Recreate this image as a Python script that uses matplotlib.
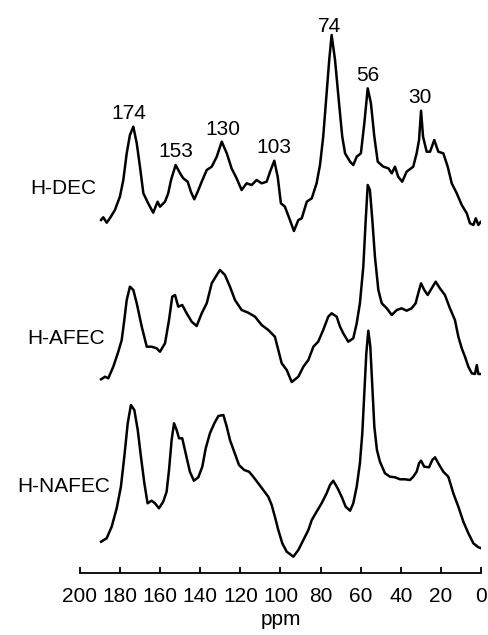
import matplotlib
matplotlib.use("Agg")
import matplotlib.pyplot as plt

plt.rcParams['font.family'] = ['Liberation Sans', 'DejaVu Sans']

# ---- data (chemical shift in ppm, intensity in arbitrary units) ----
dec_ppm = [189.5, 188.4, 186.7, 185.1, 182.6, 180.1, 178.4, 176.7, 175.1, 173.4, 171.7, 170.1,
           168.4, 166.0, 163.5, 161.3, 160.1, 157.6, 156.0, 154.6, 152.3, 150.1, 148.5, 146.3,
           144.7, 143.0, 141.3, 139.3, 136.8, 134.3, 131.8, 129.3, 126.8, 124.4, 121.9, 119.4,
           116.9, 114.4, 111.9, 109.4, 106.9, 105.2, 103.1, 101.4, 99.8, 97.8, 95.3, 93.3,
           91.1, 89.4, 86.9, 84.4, 82.0, 80.3, 78.7, 77.0, 75.7, 74.5, 72.8, 70.8, 69.2, 67.8,
           65.3, 63.7, 62.0, 59.9, 58.2, 56.5, 54.9, 53.2, 51.5, 48.7, 46.2, 44.5, 42.9, 41.3,
           39.3, 37.1, 33.8, 32.1, 30.9, 29.9, 28.9, 27.1, 25.4, 23.3, 21.3, 18.8, 16.6, 14.6,
           12.1, 9.6, 7.1, 5.5, 3.8, 2.6, 1.3, 0.2]
dec_int = [12, 14.7, 9.3, 13.7, 22, 35.3, 52, 78.7, 97, 105.3, 88.7, 65.3,
           38.7, 28.7, 19.3, 30.3, 25.3, 30.3, 38.7, 52, 67, 58.7, 53.7, 50.3,
           40.3, 32.7, 40.3, 50.3, 62, 65.3, 75.3, 90.3, 78.7, 63.7, 53.7, 42,
           48.7, 47, 52, 48.7, 50.3, 60.3, 71.3, 55.3, 28.7, 25.3, 12, 1,
           12, 13.7, 30.3, 33.7, 48.7, 67, 95.3, 138.7, 172, 197, 172, 128.7, 95.3, 78.7,
           70.3, 67, 75.3, 78.7, 108.7, 143.7, 128.7, 95.3, 70.3, 65.3, 63.7, 58.7, 65.3, 55.3,
           50.3, 60.3, 65.3, 78.7, 92, 121.3, 95.3, 80.3, 80.3, 92, 80.3, 78.7, 65.3, 48.7,
           38.7, 27, 18.7, 8.7, 7, 13.7, 7, 10]

afec_ppm = [189.5, 187.5, 185.9, 183.4, 180.9, 179.2, 177.9, 176.7, 175.1, 173.4, 171.7, 169.2,
            166.7, 164.3, 161.8, 160.1, 157.6, 155.6, 154.0, 152.6, 151.0, 149.0, 146.8, 144.3,
            141.8, 139.3, 136.8, 134.3, 131.8, 130.2, 127.7, 125.2, 122.7, 119.4, 116.1, 112.7,
            109.4, 106.1, 102.8, 101.1, 99.4, 96.9, 94.4, 91.1, 88.6, 86.1, 83.6, 81.2, 78.7,
            76.2, 74.5, 72.0, 70.3, 68.7, 66.2, 63.7, 62.0, 60.4, 58.7, 57.5, 56.5, 55.4, 54.2,
            52.9, 51.2, 49.5, 47.0, 44.5, 42.0, 39.6, 37.1, 34.6, 32.6, 31.3, 29.9, 28.3, 26.6,
            24.6, 22.6, 20.5, 18.0, 15.5, 13.0, 11.3, 9.6, 8.0, 6.3, 4.6, 3.0, 2.1, 1.3, 0.2]
afec_int = [4.7, 7.3, 5.7, 17.3, 32.3, 44, 64, 84, 97.3, 94, 80.7, 57.3,
            37.3, 37.3, 35.7, 32.3, 40.7, 64, 87.3, 89, 77.3, 79, 70.7, 62.3,
            58, 70.7, 80.7, 100.7, 109, 114, 109, 97.3, 84, 74, 71.3, 67.3,
            59, 54, 47.3, 34, 20.7, 14, 2, 7.3, 17.3, 24, 37.3, 42.3, 54,
            67.3, 70.7, 67.3, 57.3, 50.7, 42.3, 45.7, 60.7, 80.7, 117.3, 164, 199, 194, 164,
            127.3, 94, 80.7, 75.7, 69, 74, 75.7, 73.3, 75.7, 80.7, 90.7, 100.7, 94, 89,
            95.7, 102.3, 95.7, 89, 75.7, 64, 47.3, 35.7, 27.3, 17.3, 10.7, 10, 19, 10, 10]

nafec_ppm = [189.5, 186.7, 184.2, 181.7, 179.6, 177.9, 176.2, 174.6, 172.9, 171.2, 169.6, 167.9,
             166.3, 164.3, 162.6, 160.6, 158.5, 156.8, 155.6, 154.3, 153.1, 151.8, 150.6, 149.0,
             147.3, 145.2, 143.2, 141.0, 139.0, 137.3, 135.2, 133.0, 131.0, 128.5, 126.8, 125.2,
             123.1, 120.7, 118.1, 115.7, 113.6, 111.1, 108.6, 106.1, 104.4, 102.8, 101.1, 99.1,
             96.9, 95.3, 93.6, 91.1, 88.6, 86.1, 84.4, 82.0, 79.5, 77.0, 75.3, 73.7, 71.5, 69.5,
             67.5, 65.3, 63.7, 62.0, 60.4, 59.2, 58.2, 57.2, 56.2, 55.2, 54.2, 53.2, 51.9, 50.4,
             47.9, 45.4, 42.9, 40.4, 37.9, 35.4, 33.8, 32.1, 30.9, 29.9, 28.3, 25.9, 24.3, 22.9,
             21.3, 18.8, 16.3, 13.8, 11.3, 8.8, 6.3, 3.8, 1.3, 0.2]
nafec_int = [16.3, 19.7, 31.3, 49.7, 71.3, 101.3, 134.7, 153, 148, 128, 101.3, 74.7,
             54.7, 57.3, 54.7, 49.7, 56.3, 66.3, 88, 118, 134.7, 128, 119.7, 119.7,
             104.7, 86.3, 77.3, 80.7, 91.3, 109.7, 124.7, 134.7, 142, 143, 131.3, 118,
             106.3, 93, 88, 86.3, 81.3, 74.7, 68, 61.3, 53, 41.3, 28, 14.7,
             6.3, 4, 1.3, 8, 18, 28, 38, 46.3, 54.7, 64.7, 73, 77.3, 69.7, 61.3,
             51.3, 47.3, 54.7, 71.3, 94.7, 124.7, 164.7, 204.7, 227.3, 211.3, 171.3, 131.3, 108, 96.3,
             84.7, 81.3, 80.7, 78.7, 78.7, 78, 81.3, 86.3, 94.7, 97.3, 91.3, 90.7, 98, 100.7,
             94.7, 86.3, 81.3, 64.7, 51.3, 36.3, 24.7, 14.7, 10.7, 10]

sample_names = ["H-DEC", "H-AFEC", "H-NAFEC"]
sample_offsets = [341, 189, 15]

peak_labels = ["174", "153", "130", "103", "74", "56", "30"]
peak_ppm = [175.6, 152.1, 128.7, 103.3, 75.8, 56.4, 30.4]
peak_text_y = [454.3, 416.3, 438, 419.7, 541.3, 492.3, 469.7]

xticks = [200, 180, 160, 140, 120, 100, 80, 60, 40, 20, 0]

# ---- figure ----
W, H = 489, 635
fig = plt.figure(figsize=(W / 100, H / 100), dpi=100)
ax = fig.add_axes([80 / W, 62 / H, 401 / W, 573 / H])

traces = [(dec_ppm, dec_int), (afec_ppm, afec_int), (nafec_ppm, nafec_int)]
for (xs, ys), off in zip(traces, sample_offsets):
    ax.plot(xs, [v + off for v in ys], color='black', lw=1.8, solid_joinstyle='round')

ax.set_xlim(200, 0)
ax.set_ylim(0, 573)

for s in ['top', 'left', 'right']:
    ax.spines[s].set_visible(False)
ax.spines['bottom'].set_linewidth(1.3)
ax.set_yticks([])
ax.set_xticks(xticks)
ax.set_xticklabels([str(t) for t in xticks])
ax.tick_params(axis='x', direction='in', length=4, width=1.3, labelsize=15, pad=10)
ax.set_xlabel("ppm", fontsize=15, labelpad=3)

for lab, px, py in zip(peak_labels, peak_ppm, peak_text_y):
    ax.text(px, py, lab, ha='center', va='baseline', fontsize=15, clip_on=False)

name_x = [63.5 / W, 66.5 / W, 63.5 / W]
name_y = [188, 338, 487]
for n, nx, ny in zip(sample_names, name_x, name_y):
    fig.text(nx, 1 - ny / H, n, ha='center', va='center', fontsize=15)

fig.savefig("out.png", dpi=100)
